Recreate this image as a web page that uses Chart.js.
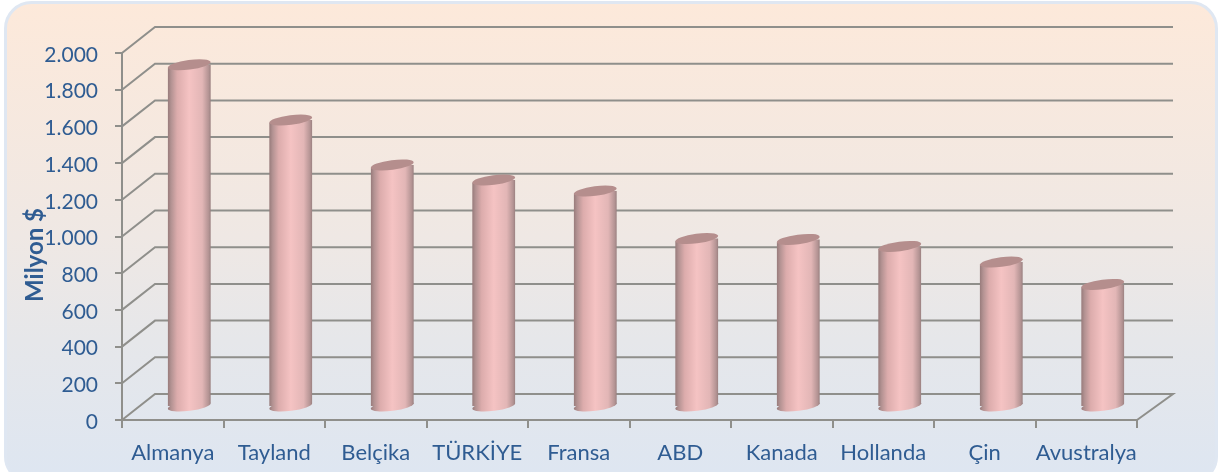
<!DOCTYPE html>
<html>
<head>
<meta charset="utf-8">
<style>
  html, body { margin: 0; padding: 0; background: #fff; }
  canvas { display: block; filter: blur(0.45px); }
</style>
<script src="https://cdn.jsdelivr.net/npm/chart.js@4"></script>
</head>
<body>
<canvas id="chart" width="1219" height="472"></canvas>
<script>
const categories = ['Almanya', 'Tayland', 'Belçika', 'TÜRKİYE', 'Fransa', 'ABD', 'Kanada', 'Hollanda', 'Çin', 'Avustralya'];
const values = [1865, 1564, 1319, 1237, 1177, 918, 913, 875, 790, 668];
const yMax = 2000;
const yStep = 200;
const yTitle = 'Milyon $';

const textColor = '#2f5c92';
const lineColor = '#8f8f8b';

// depth of the fake 3d floor, and where the cylinders stand on it
const wallDx = 33;
const wallDy = 26;
const wallExtra = 3;
const barDx = 16.5;
const barDy = 13;
const barShare = 0.425;
const capRy = 4.8;
const capTilt = -0.13;

function cylinderFill(context) {
  const x = context.chart.scales.x;
  if (!x || context.dataIndex === undefined) return '#f5c3c3';
  const w = x.width / categories.length * barShare;
  const x0 = x.getPixelForValue(context.dataIndex) - w / 2;
  if (!isFinite(x0) || !isFinite(w)) return '#f5c3c3';
  const g = context.chart.ctx.createLinearGradient(x0, 0, x0 + w, 0);
  g.addColorStop(0, '#967a7a');
  g.addColorStop(0.08, '#b39292');
  g.addColorStop(0.22, '#dcacac');
  g.addColorStop(0.5, '#f5c3c3');
  g.addColorStop(0.8, '#e2b6b6');
  g.addColorStop(0.95, '#b39393');
  g.addColorStop(1, '#987f7f');
  return g;
}

/* Panel behind the chart */
const panel = {
  id: 'panel',
  beforeDraw(chart) {
    const ctx = chart.ctx;
    const g = ctx.createLinearGradient(0, 0, 0, chart.height);
    g.addColorStop(0, '#fde9da');
    g.addColorStop(0.5, '#efe8e4');
    g.addColorStop(0.72, '#e6e7ea');
    g.addColorStop(1, '#dee6f1');
    ctx.save();
    ctx.beginPath();
    ctx.roundRect(5.5, 2.5, 1211, 480, 26);
    ctx.fillStyle = g;
    ctx.fill();
    ctx.lineWidth = 3;
    ctx.strokeStyle = '#dfe7f2';
    ctx.stroke();
    ctx.restore();
  }
};

/* Back wall lines and floor, taken from the y ticks */
const walls = {
  id: 'walls',
  beforeDatasetsDraw(chart) {
    const ctx = chart.ctx;
    const y = chart.scales.y;
    const { left, right } = chart.chartArea;
    ctx.save();
    ctx.lineWidth = 2;
    ctx.strokeStyle = lineColor;
    y.ticks.forEach(function (tick, i) {
      const py = y.getPixelForTick(i);
      ctx.beginPath();
      ctx.moveTo(left, py);
      ctx.lineTo(left + wallDx, py - wallDy);
      ctx.lineTo(right + wallDx + wallExtra, py - wallDy);
      if (tick.value === 0) ctx.lineTo(right, py);
      ctx.stroke();
    });
    ctx.restore();
  }
};

/* Shifts the library's bars back onto the floor, trims their corners to the
   tilt of the caps, then adds the round caps */
const cylinders = {
  id: 'cylinders',
  beforeDatasetDraw(chart, args) {
    const ctx = chart.ctx;
    ctx.save();
    ctx.translate(barDx, -barDy);
    ctx.beginPath();
    args.meta.data.forEach(function (bar) {
      const rx = bar.width / 2;
      const slope = rx * Math.sin(capTilt);
      ctx.moveTo(bar.x - rx, bar.y - slope);
      ctx.lineTo(bar.x + rx, bar.y + slope);
      ctx.lineTo(bar.x + rx, bar.base + slope);
      ctx.lineTo(bar.x - rx, bar.base - slope);
      ctx.closePath();
    });
    ctx.clip();
  },
  afterDatasetDraw(chart, args) {
    const ctx = chart.ctx;
    ctx.restore();
    ctx.save();
    ctx.translate(barDx, -barDy);
    args.meta.data.forEach(function (bar) {
      const rx = bar.width / 2;
      ctx.beginPath();
      ctx.ellipse(bar.x, bar.base, rx, capRy, capTilt, 0, Math.PI * 2);
      ctx.fillStyle = bar.options.backgroundColor;
      ctx.fill();
      ctx.beginPath();
      ctx.ellipse(bar.x, bar.y, rx, capRy, capTilt, 0, Math.PI * 2);
      ctx.fillStyle = '#b58e8d';
      ctx.fill();
    });
    ctx.restore();
  }
};

/* Axis title sits lower than the axis middle, so it can't use scale.title */
const axisTitle = {
  id: 'axisTitle',
  afterDraw(chart) {
    const ctx = chart.ctx;
    ctx.save();
    ctx.translate(43, 255);
    ctx.rotate(-Math.PI / 2);
    ctx.font = 'bold 24px Lato';
    ctx.fillStyle = textColor;
    ctx.textAlign = 'center';
    ctx.textBaseline = 'alphabetic';
    ctx.fillText(yTitle, 0, 0);
    ctx.restore();
  }
};

new Chart(document.getElementById('chart').getContext('2d'), {
  type: 'bar',
  data: {
    labels: categories,
    datasets: [{
      data: values,
      backgroundColor: cylinderFill,
      borderWidth: 0,
      categoryPercentage: 1,
      barPercentage: barShare
    }]
  },
  options: {
    responsive: false,
    animation: false,
    layout: { padding: { top: 53, right: 82, left: 0, bottom: 0 } },
    plugins: { legend: { display: false }, tooltip: { enabled: false } },
    scales: {
      x: {
        afterFit(scale) { scale.height = 52; },
        grid: { drawOnChartArea: false, color: lineColor, lineWidth: 2, tickLength: 8, tickColor: lineColor },
        border: { color: lineColor, width: 2 },
        ticks: {
          color: textColor,
          font: { family: 'Lato', size: 22 },
          padding: 12,
          maxRotation: 0,
          autoSkip: false
        }
      },
      y: {
        min: 0,
        max: yMax,
        afterFit(scale) { scale.width = 122; },
        grid: { drawOnChartArea: false, color: lineColor, lineWidth: 2, tickLength: 7, tickColor: lineColor },
        border: { color: lineColor, width: 2 },
        ticks: {
          stepSize: yStep,
          color: textColor,
          font: { family: 'Lato', size: 21 },
          padding: 17,
          labelOffset: 2,
          callback(v) { return v.toLocaleString('de-DE'); }
        }
      }
    }
  },
  plugins: [panel, walls, cylinders, axisTitle]
});
</script>
</body>
</html>
